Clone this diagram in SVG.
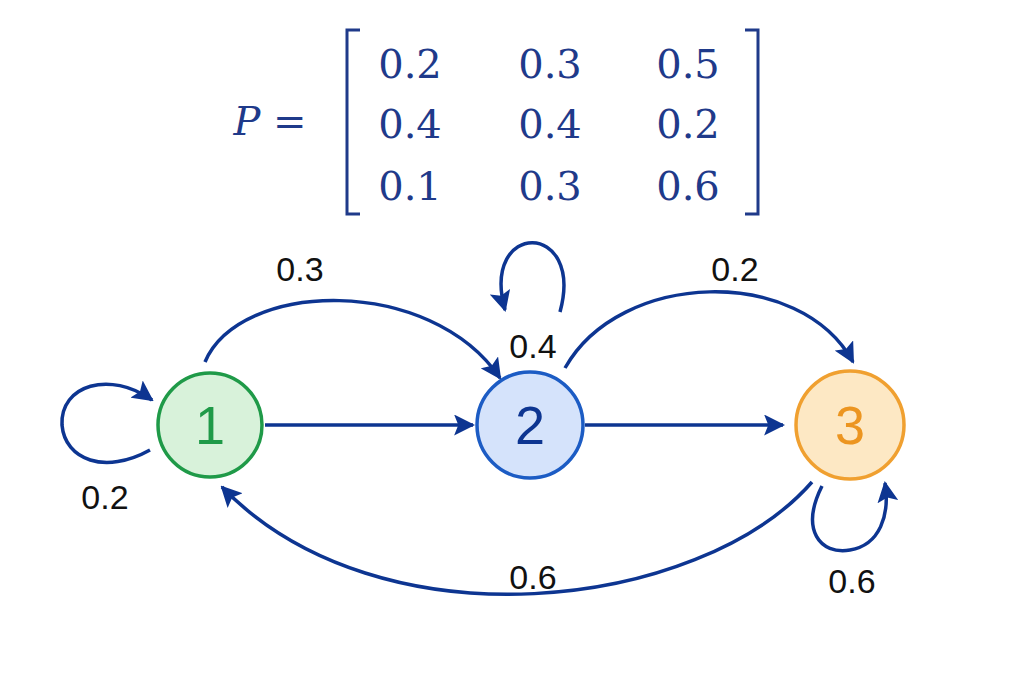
<svg xmlns="http://www.w3.org/2000/svg" width="1024" height="683" viewBox="0 0 1024 683">
<style>
.m{font-family:"DejaVu Serif","Liberation Serif",serif;font-size:40px;fill:#1f3a8a;text-anchor:middle}
.l{font-family:"Liberation Sans",Arial,sans-serif;font-size:34px;fill:#111;text-anchor:middle}
.e{fill:none;stroke:#0d3591;stroke-width:3.5;marker-end:url(#a)}
.n{font-family:"Liberation Sans",Arial,sans-serif;font-size:54px;text-anchor:middle}
</style>
<defs><marker id="a" viewBox="0 0 10 10" refX="9" refY="5" markerWidth="6" markerHeight="6" orient="auto" markerUnits="strokeWidth"><path d="M0,0L10,5L0,10L2,5z" fill="#0d3591"/></marker></defs>
<rect width="1024" height="683" fill="#fff"/>
<g id="matrix">
<text x="270" y="135" class="m" font-style="italic" font-size="44">P =</text>
<path d="M360,30H347V214H360M745,30H758V214H745" fill="none" stroke="#1f3a8a" stroke-width="3"/>
<text x="410" y="78" class="m">0.2</text><text x="550" y="78" class="m">0.3</text><text x="688" y="78" class="m">0.5</text>
<text x="410" y="138" class="m">0.4</text><text x="550" y="138" class="m">0.4</text><text x="688" y="138" class="m">0.2</text>
<text x="410" y="200" class="m">0.1</text><text x="550" y="200" class="m">0.3</text><text x="688" y="200" class="m">0.6</text>
</g>
<g id="connectors">
<path class="e" d="M265,425H473"/>
<path class="e" d="M585,425H783"/>
<path class="e" d="M205,362C240,280 430,275 500,378"/>
<path class="e" d="M560,312C585,220 480,220 505,310"/>
<path class="e" d="M565,368C620,270 800,265 853,362"/>
<path class="e" d="M812,482C700,610 380,650 222,487"/>
<path class="e" d="M150,450C105,475 65,460 62,425C60,385 110,370 152,400"/>
<path class="e" d="M822,486C800,530 820,555 850,550C880,545 890,515 885,483"/>
</g>
<g id="labels">
<text x="300" y="281" class="l">0.3</text>
<text x="533" y="358" class="l">0.4</text>
<text x="735" y="281" class="l">0.2</text>
<text x="105" y="509" class="l">0.2</text>
<text x="533" y="589" class="l">0.6</text>
<text x="852" y="593" class="l">0.6</text>
</g>
<g id="node1"><circle cx="210" cy="425" r="52" fill="#d8f2da" stroke="#1f9a48" stroke-width="3.5"/><text x="210" y="444" class="n" fill="#1f9a48">1</text></g>
<g id="node2"><circle cx="530" cy="425" r="53" fill="#d5e3fb" stroke="#1c5cc4" stroke-width="3.5"/><text x="530" y="444" class="n" fill="#0d3591">2</text></g>
<g id="node3"><circle cx="850" cy="425" r="54" fill="#fde8c4" stroke="#f0a030" stroke-width="3.5"/><text x="850" y="444" class="n" fill="#ec9520">3</text></g>
</svg>
